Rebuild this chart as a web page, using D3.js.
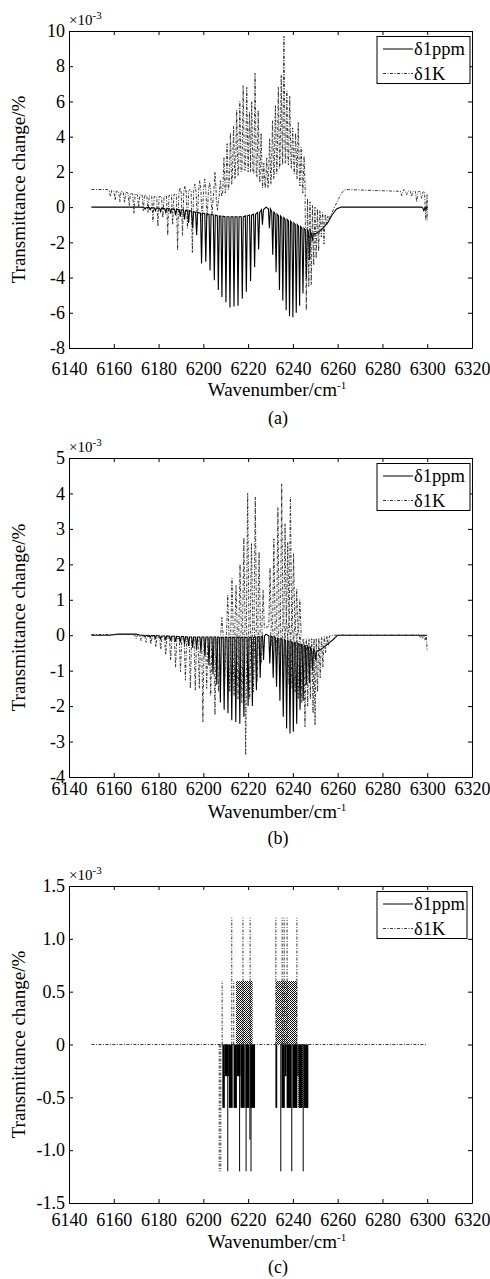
<!DOCTYPE html>
<html>
<head>
<meta charset="utf-8">
<script src="https://cdn.jsdelivr.net/npm/d3@7"></script>
<style>
body { margin: 0; background: #fff; }
svg { display: block; font-family: "Liberation Serif", "Times New Roman", serif; }
</style>
</head>
<body>
<div id="chart"></div>
<script>
// shared x axis
var xTicks = [6140, 6160, 6180, 6200, 6220, 6240, 6260, 6280, 6300, 6320];

// y ticks per panel
var yTicksA = [-8, -6, -4, -2, 0, 2, 4, 6, 8, 10];
var yTicksB = [-4, -3, -2, -1, 0, 1, 2, 3, 4, 5];
var yTicksC = [-1.5, -1.0, -0.5, 0, 0.5, 1.0, 1.5];
var yLabelsC = ["-1.5", "-1.0", "-0.5", "0", "0.5", "1.0", "1.5"];

var seriesNames = ["\u03b41ppm", "\u03b41K"];

// spectra: [wavenumber, envelope, line extreme] (x1e-3 %)
var ppmA = [
  [6150, 0, 0], [6172, 0, 0],
  [6174, -0.02, -0.12], [6176.3, -0.03, -0.15], [6178.6, -0.05, -0.2], [6180.9, -0.06, -0.25],
  [6183.2, -0.08, -0.3], [6185.4, -0.1, -0.35], [6187.6, -0.12, -0.45], [6189.7, -0.15, -0.55],
  [6191.6, -0.18, -0.7], [6193.4, -0.2, -0.9], [6195.2, -0.25, -1.2],
  [6197, -0.3, -1.6], [6199.2, -0.35, -3.2], [6201.1, -0.38, -3.1], [6203, -0.42, -3.6],
  [6204.9, -0.45, -4.15], [6206.7, -0.5, -4.7], [6208.3, -0.52, -5.1], [6210.1, -0.55, -5.4],
  [6211.9, -0.55, -5.7], [6213.7, -0.55, -5.65], [6215.5, -0.55, -5.6], [6217.4, -0.55, -5.2],
  [6219.2, -0.5, -4.8], [6221.1, -0.45, -4.2], [6222.9, -0.4, -3.4], [6224.7, -0.3, -2.4],
  [6226.4, -0.15, -1.0],
  [6228, 0, 0],
  [6229.5, -0.1, -1.2], [6231, -0.25, -2.7], [6232.5, -0.4, -3.7], [6234, -0.5, -4.7],
  [6235.5, -0.6, -5.3], [6237, -0.7, -5.85], [6238.5, -0.8, -6.2], [6240, -0.9, -6.25],
  [6241.5, -1.0, -6.0], [6243, -1.1, -5.6], [6244.5, -1.2, -4.9], [6246, -1.3, -4.1],
  [6247.4, -1.4, -3.0], [6248.7, -1.5, -1.9],
  [6250.5, -1.5, -1.5], [6253, -1.25, -1.25], [6255.5, -0.9, -0.9], [6257.5, -0.45, -0.45],
  [6259.5, -0.1, -0.1], [6261.5, 0, 0], [6297.5, 0, 0], [6298.5, -0.05, -0.2],
  [6299.4, 0.02, -0.1], [6300, -0.05, -0.05]
];

var tempA = [
  [6150, 1.0, 1.0], [6157, 1.0, 1.0],
  [6158.5, 0.95, 0.6], [6160.6, 0.9, 0.4], [6162.7, 0.9, 0.3], [6164.8, 0.85, 0.25],
  [6166.9, 0.8, 0.1], [6169, 0.75, -0.36], [6171.1, 0.7, 0.0], [6173.2, 0.7, -0.2],
  [6175.3, 0.65, -0.3], [6177.5, 0.6, -0.83], [6179.7, 0.6, -1.1], [6181.9, 0.6, -0.6],
  [6184.1, 0.65, -1.6], [6186.3, 0.7, -1.0], [6188.5, 0.75, -2.44], [6189.6, 0.8, 1.1],
  [6190.7, 0.8, -1.6], [6191.8, 0.85, 1.2], [6192.9, 0.9, -1.2], [6194, 0.9, 1.0],
  [6195.1, 0.9, -2.6], [6196.2, 0.9, 1.3], [6197.3, 0.9, -1.0], [6198.4, 0.9, 1.5],
  [6199.5, 0.8, -0.8], [6200.6, 0.9, 1.6], [6201.7, 0.8, -0.6], [6202.8, 0.9, 1.4],
  [6203.9, 0.6, -0.4], [6205.2, 0.8, 2.0], [6206.3, 0.5, -0.2],
  [6207.6, 0.6, 1.5], [6209.2, 0.8, 2.8], [6210.6, 1.0, 3.6], [6212.1, 1.3, 4.2],
  [6213.5, 1.6, 4.6], [6214.9, 1.8, 5.5], [6216.3, 2.0, 6.0], [6217.8, 2.1, 6.9],
  [6219.4, 2.1, 6.8], [6220.6, 2.0, 5.4], [6221.6, 2.0, 6.0], [6223.1, 1.9, 7.6],
  [6224.5, 1.7, 5.5], [6225.8, 1.4, 4.2], [6227, 1.1, 2.5],
  [6228.3, 1.1, 2.8], [6229.6, 1.3, 3.9], [6230.9, 1.6, 4.9], [6232.2, 1.9, 5.8],
  [6233.5, 2.2, 6.8], [6234.8, 2.4, 7.5], [6236, 2.5, 9.7], [6237.3, 2.5, 6.6],
  [6238.6, 2.4, 6.3], [6239.9, 2.2, 4.5], [6241.2, 1.9, 4.2], [6242.4, 1.6, 4.8],
  [6243.7, 1.2, 3.4], [6245, 0.8, 2.9],
  [6246, 0.5, -5.85], [6247.1, 0.3, -4.5], [6248.2, 0.1, -4.4], [6249.3, 0, -3.3],
  [6250.4, -0.1, -2.9], [6251.5, -0.2, -2.5], [6252.7, -0.3, -1.7], [6253.9, -0.4, -2.1],
  [6255.1, -0.5, -1.0], [6256.2, -0.5, -0.7],
  [6257.5, -0.3, -0.3], [6259, 0.1, 0.1], [6260.5, 0.5, 0.5], [6262, 0.85, 0.85],
  [6263.3, 1.0, 1.0], [6287, 0.9, 0.9],
  [6288.6, 0.9, 0.65], [6289.7, 0.9, 1.0], [6290.8, 0.9, 0.7], [6292, 0.9, 0.95],
  [6293, 0.88, 0.6], [6294.2, 0.88, 0.95], [6295.3, 0.85, 0.3], [6296.4, 0.85, 0.9],
  [6297.5, 0.8, 0.5], [6298.5, 0.8, 0.9], [6299.4, 0.7, -0.74], [6300, -0.8, -0.8]
];

var ppmB = [
  [6150, 0, 0], [6158, 0, 0], [6162, 0.03, 0.03], [6170, 0.03, 0.03], [6172, 0, 0],
  [6174, 0, -0.05], [6176.3, -0.01, -0.06], [6178.6, -0.01, -0.08], [6180.9, -0.02, -0.1],
  [6183.2, -0.02, -0.12], [6185.4, -0.03, -0.15], [6187.6, -0.03, -0.18], [6189.7, -0.04, -0.2],
  [6191.6, -0.04, -0.25], [6193.4, -0.05, -0.3], [6195.2, -0.05, -0.35], [6197, -0.05, -0.4],
  [6198.9, -0.05, -0.45],
  [6200.7, -0.05, -0.6], [6202.5, -0.05, -0.85], [6204.3, -0.05, -1.1], [6206, -0.05, -1.4],
  [6207.6, -0.06, -1.9], [6209.3, -0.06, -2.1], [6211, -0.06, -2.2], [6212.7, -0.06, -2.4],
  [6214.5, -0.06, -2.45], [6216.3, -0.06, -2.5], [6218.1, -0.06, -2.3], [6220, -0.06, -2.0],
  [6221.9, -0.06, -2.0], [6223.7, -0.05, -1.55], [6225.4, -0.04, -1.2], [6226.9, -0.02, -0.7],
  [6228, 0.03, 0.03],
  [6229.7, -0.02, -0.8], [6231.2, -0.05, -1.2], [6232.7, -0.08, -1.45], [6234.2, -0.1, -1.85],
  [6235.7, -0.12, -2.3], [6237.2, -0.15, -2.63], [6238.7, -0.18, -2.77], [6240.2, -0.2, -2.72],
  [6241.7, -0.22, -2.5], [6243.2, -0.25, -2.1], [6244.6, -0.28, -1.85], [6246, -0.3, -1.4],
  [6247.4, -0.35, -1.35], [6248.8, -0.4, -1.0], [6250.2, -0.45, -0.7],
  [6252, -0.42, -0.42], [6255, -0.28, -0.28], [6258, -0.12, -0.12], [6260, 0, 0], [6300, 0, 0]
];

var tempB = [
  [6150, 0.02, 0.02], [6168, 0.02, 0.02],
  [6170, 0, -0.1], [6172.2, -0.02, -0.15], [6174.4, -0.03, -0.2], [6176.6, -0.04, -0.25],
  [6178.8, -0.05, -0.33], [6181, -0.06, -0.4], [6183.2, -0.07, -0.55], [6185.4, -0.08, -0.7],
  [6187.6, -0.09, -0.9], [6189.8, -0.1, -1.03], [6192, -0.1, -1.27], [6194.2, -0.1, -1.5],
  [6196.4, -0.1, -1.55], [6198.2, -0.1, -1.5], [6199.8, -0.1, -2.44], [6201.5, -0.1, -1.5],
  [6203.3, -0.1, -1.7], [6205.2, -0.1, -2.25], [6206.8, -0.1, -1.6],
  [6208.3, 0, 0.5], [6209.5, -0.1, -1.5], [6210.9, 0.05, 1.13], [6211.8, -0.1, -1.6],
  [6212.8, 0.1, 1.6], [6213.7, -0.1, -1.7], [6214.6, 0.15, 1.4], [6215.5, -0.1, -1.8],
  [6216.4, 0.2, 2.0], [6217.2, -0.1, -1.9], [6218.1, 0.3, 2.75], [6218.9, -0.1, -3.38],
  [6219.8, 0.35, 4.0], [6220.7, -0.1, -1.8], [6221.5, 0.4, 2.6], [6222.4, -0.1, -1.6],
  [6223.2, 0.4, 3.9], [6224, -0.1, -1.3], [6224.9, 0.35, 2.35], [6225.8, -0.05, -0.8],
  [6226.7, 0.2, 1.27],
  [6229.8, 0.25, 1.9], [6230.6, 0, -0.3], [6231.5, 0.3, 2.72], [6232.4, 0, -0.5],
  [6233.3, 0.35, 3.6], [6234.1, -0.05, -0.8], [6235, 0.4, 4.27], [6235.8, -0.05, -1.0],
  [6236.5, 0.4, 3.15], [6237.1, -0.05, -1.2], [6237.7, 0.4, 2.63], [6238.3, -0.05, -1.4],
  [6238.9, 0.35, 3.9], [6239.6, -0.05, -1.5], [6240.3, 0.3, 2.3], [6241, -0.05, -1.6],
  [6241.7, 0.2, 1.3], [6242.4, -0.05, -1.8], [6243.1, 0.1, 1.0],
  [6244, -0.1, -1.9], [6245.4, -0.1, -2.58], [6246.6, -0.1, -2.0], [6247.8, -0.1, -1.8],
  [6249, -0.1, -2.2], [6249.9, -0.1, -2.54], [6251, -0.1, -1.6], [6252.2, -0.08, -1.2],
  [6253.4, -0.06, -0.9], [6254.6, -0.04, -0.5], [6255.8, -0.02, -0.3],
  [6258, 0, 0], [6296, 0, 0], [6297, 0, -0.08], [6298, 0, -0.1], [6299, 0, -0.15],
  [6300, -0.45, -0.45]
];

// panel (c) is quantised: dense bands [from, to, value] and single lines [wavenumber, value]
var ppmC_bands = [
  [6208.5, 6209.6, -0.6], [6209.6, 6211.4, -0.3], [6211.4, 6213.1, -0.6], [6213.5, 6215.0, -0.6],
  [6215.0, 6216.6, -0.3], [6216.6, 6218.5, -0.6], [6218.8, 6220.5, -0.6], [6220.9, 6223.1, -0.6],
  [6232.2, 6233.0, -0.6], [6234.9, 6236.4, -0.6], [6236.4, 6237.2, -0.3], [6237.2, 6239.2, -0.6],
  [6239.8, 6242.0, -0.6], [6242.0, 6242.6, -0.3], [6242.6, 6244.3, -0.6], [6245.0, 6246.9, -0.6]
];
var ppmC_lines = [
  [6210.9, -1.2], [6216.2, -1.2], [6219.1, -1.2], [6220.8, -0.9], [6221.3, -1.2],
  [6234.6, -1.2], [6239.5, -1.2], [6244.6, -1.2]
];
var tempC_base = [[6150, 0], [6300, 0]];
var tempC_bands = [[6214.6, 6222.0, 0.6], [6232.4, 6241.9, 0.6], [6242.4, 6246.6, -0.6]];
var tempC_lines = [
  [6207.1, -1.2], [6207.8, -1.2], [6208.4, 0.6], [6212.7, 1.2], [6213.6, 0.6], [6217.7, 1.2],
  [6220.9, 1.2], [6232.4, 1.2], [6235.2, 1.2], [6236.1, 1.2], [6237.4, 1.2], [6241.8, 1.2]
];

var width = 490, height = 1279;
var left = 69, right = 472;
var dashDot = "3,1.5,1,1.5";

var svg = d3.select("#chart").append("svg")
    .attr("width", width)
    .attr("height", height);

svg.append("rect").attr("width", width).attr("height", height).attr("fill", "#fff");

var defs = svg.append("defs");
var pat = defs.append("pattern").attr("id", "hatch")
    .attr("width", 2).attr("height", 2).attr("patternUnits", "userSpaceOnUse");
pat.append("rect").attr("x", 0).attr("y", 0).attr("width", 1).attr("height", 1).attr("fill", "#000");
pat.append("rect").attr("x", 1).attr("y", 1).attr("width", 1).attr("height", 1).attr("fill", "#111");

var xScale = d3.scaleLinear().domain([6140, 6320]).range([left, right]);

// turn each [x, env, extreme] into a narrow spike
function spikes(data, hw) {
    var pts = [];
    data.forEach(function (d) {
        if (d[1] === d[2]) {
            pts.push([d[0], d[1]]);
        } else {
            pts.push([d[0] - hw, d[1]]);
            pts.push([d[0], d[2]]);
            pts.push([d[0] + hw, d[1]]);
        }
    });
    return pts;
}

var panels = [
    { top: 31, bottom: 348, domain: [-8, 10], ticks: yTicksA, labels: null,
      ppm: ppmA, temp: tempA, pad: 14, xlab: 396, cap: 424, capText: "(a)", legW: 93 },
    { top: 458, bottom: 777, domain: [-4, 5], ticks: yTicksB, labels: null,
      ppm: ppmB, temp: tempB, pad: 5, xlab: 818, cap: 844, capText: "(b)", legW: 93 },
    { top: 886, bottom: 1203, domain: [-1.5, 1.5], ticks: yTicksC, labels: yLabelsC,
      ppm: null, temp: null, pad: 10, xlab: 1248, cap: 1273, capText: "(c)", legW: 90 }
];

panels.forEach(function (p, i) {
    var yScale = d3.scaleLinear().domain(p.domain).range([p.bottom, p.top]);
    var g = svg.append("g");

    var clipId = "clip" + i;
    defs.append("clipPath").attr("id", clipId)
        .append("rect").attr("x", left).attr("y", p.top)
        .attr("width", right - left).attr("height", p.bottom - p.top);

    var plot = g.append("g").attr("clip-path", "url(#" + clipId + ")");
    var line = d3.line()
        .x(function (d) { return xScale(d[0]); })
        .y(function (d) { return yScale(d[1]); });

    if (p.ppm) {
        plot.append("path")
            .attr("d", line(spikes(p.ppm, 0.45)))
            .attr("fill", "none")
            .attr("stroke", "#000")
            .attr("stroke-width", 1.1);
        plot.append("path")
            .attr("d", line(spikes(p.temp, 0.55)))
            .attr("fill", "none")
            .attr("stroke", "#222")
            .attr("stroke-width", 0.9)
            .attr("stroke-dasharray", dashDot);
    } else {
        var area = d3.area()
            .x(function (d) { return xScale(d[0]); })
            .y0(yScale(0))
            .y1(function (d) { return yScale(d[1]); });
        ppmC_bands.forEach(function (b) {
            plot.append("path")
                .attr("d", area([[b[0], b[2]], [b[1], b[2]]]))
                .attr("fill", "#000");
        });
        plot.selectAll(".ppmline").data(ppmC_lines).enter().append("line")
            .attr("x1", function (d) { return xScale(d[0]); })
            .attr("x2", function (d) { return xScale(d[0]); })
            .attr("y1", yScale(0))
            .attr("y2", function (d) { return yScale(d[1]); })
            .attr("stroke", "#000").attr("stroke-width", 1);
        plot.append("path")
            .attr("d", line(tempC_base))
            .attr("fill", "none")
            .attr("stroke", "#222")
            .attr("stroke-width", 0.9)
            .attr("stroke-dasharray", dashDot);
        tempC_bands.forEach(function (b) {
            plot.append("path")
                .attr("d", area([[b[0], b[2]], [b[1], b[2]]]))
                .attr("fill", "url(#hatch)");
        });
        plot.selectAll(".templine").data(tempC_lines).enter().append("line")
            .attr("x1", function (d) { return xScale(d[0]); })
            .attr("x2", function (d) { return xScale(d[0]); })
            .attr("y1", yScale(0))
            .attr("y2", function (d) { return yScale(d[1]); })
            .attr("stroke", "#222").attr("stroke-width", 0.9)
            .attr("stroke-dasharray", dashDot);
    }

    // axes: inward ticks on all four sides
    var fmt = p.labels ? function (d, k) { return p.labels[k]; } : function (d) { return String(d); };
    var axB = g.append("g").attr("transform", "translate(0," + p.bottom + ")")
        .call(d3.axisBottom(xScale).tickValues(xTicks).tickSizeInner(-4).tickSizeOuter(0)
            .tickPadding(p.pad).tickFormat(d3.format("d")));
    var axT = g.append("g").attr("transform", "translate(0," + p.top + ")")
        .call(d3.axisTop(xScale).tickValues(xTicks).tickSizeInner(-4).tickSizeOuter(0).tickFormat(""));
    var axL = g.append("g").attr("transform", "translate(" + left + ",0)")
        .call(d3.axisLeft(yScale).tickValues(p.ticks).tickSizeInner(-4).tickSizeOuter(0).tickPadding(4).tickFormat(fmt));
    var axR = g.append("g").attr("transform", "translate(" + right + ",0)")
        .call(d3.axisRight(yScale).tickValues(p.ticks).tickSizeInner(-4).tickSizeOuter(0).tickFormat(""));
    [axB, axT, axL, axR].forEach(function (a) {
        a.attr("font-family", null).attr("font-size", 18);
        a.selectAll("text").attr("fill", "#000");
        a.selectAll("line, path").attr("stroke", "#000");
    });

    // exponent
    var ex = g.append("text").attr("x", 69).attr("y", p.top - 6).attr("font-size", 15).attr("fill", "#000");
    ex.append("tspan").text("\u00d710");
    ex.append("tspan").attr("dy", -6).attr("font-size", 11).text("-3");

    // y label
    g.append("text")
        .attr("transform", "translate(25," + ((p.top + p.bottom) / 2) + ") rotate(-90)")
        .attr("text-anchor", "middle")
        .attr("font-size", 19)
        .attr("fill", "#000")
        .text("Transmittance change/%");

    // x label
    var xl = g.append("text").attr("x", 277).attr("y", p.xlab)
        .attr("text-anchor", "middle").attr("font-size", 19).attr("fill", "#000");
    xl.append("tspan").text("Wavenumber/cm");
    xl.append("tspan").attr("dy", -7).attr("font-size", 11).text("-1");

    g.append("text").attr("x", 278).attr("y", p.cap)
        .attr("text-anchor", "middle").attr("font-size", 18).attr("fill", "#000")
        .text(p.capText);

    // legend
    var lg = g.append("g").attr("transform", "translate(377," + (p.top + 5.5) + ")");
    lg.append("rect").attr("width", p.legW).attr("height", 47)
        .attr("fill", "#fff").attr("stroke", "#000").attr("stroke-width", 1);
    lg.append("line").attr("x1", 6).attr("x2", 36).attr("y1", 12.5).attr("y2", 12.5)
        .attr("stroke", "#000").attr("stroke-width", 1);
    lg.append("line").attr("x1", 6).attr("x2", 36).attr("y1", 37).attr("y2", 37)
        .attr("stroke", "#222").attr("stroke-width", 0.9).attr("stroke-dasharray", dashDot);
    lg.append("text").attr("x", 37).attr("y", 18.5).attr("font-size", 18.5).attr("fill", "#000").text(seriesNames[0]);
    lg.append("text").attr("x", 37).attr("y", 43).attr("font-size", 18.5).attr("fill", "#000").text(seriesNames[1]);
});
</script>
</body>
</html>
